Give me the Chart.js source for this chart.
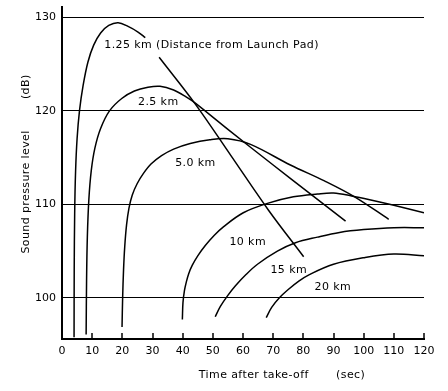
<!DOCTYPE html>
<html>
<head>
<meta charset="utf-8">
<script src="https://cdn.jsdelivr.net/npm/chart.js@4.4.1/dist/chart.umd.min.js"></script>
<style>
  html, body { margin: 0; padding: 0; background: #fff; }
</style>
</head>
<body>
<canvas id="noiseChart" width="448" height="391"></canvas>
<script>
// Niveau sonore en fonction du temps après le décollage, une courbe par distance
const xTicks = [0, 10, 20, 30, 40, 50, 60, 70, 80, 90, 100, 110, 120];
const yTicks = [100, 110, 120, 130];

// 1.25 km (null = coupure sous le texte)
const t125  = [4.0, 4.05, 4.2, 4.5, 5.0, 5.8, 7.0, 8.6, 10.5, 12.8, 15.5, 18.6, 21.9, 25.2, 27.6, 29.9, 32.2, 44.2, 56.0, 68.4, 80.1];
const db125 = [95.8, 103.0, 109.0, 113.5, 117.0, 120.0, 122.7, 125.2, 127.0, 128.3, 129.1, 129.4, 129.0, 128.4, 127.8, null, 125.7, 120.7, 115.2, 109.4, 104.4];

const t25  = [8.0, 8.15, 8.4, 8.9, 9.7, 10.9, 12.8, 15.8, 19.8, 24.0, 28.5, 32.5, 37.0, 41.0, 44.2, 55.0, 70.0, 82.0, 94.0];
const db25 = [96.1, 102.0, 106.5, 110.5, 113.6, 116.0, 118.1, 120.0, 121.3, 122.1, 122.5, 122.6, 122.2, 121.5, 120.8, 118.0, 114.2, 111.2, 108.2];

const t50  = [19.9, 20.1, 20.4, 20.8, 21.4, 22.2, 23.3, 24.9, 27.0, 29.5, 33.0, 37.0, 42.5, 49.0, 55.0, 62.5, 75.7, 87.0, 97.0, 108.3];
const db50 = [96.9, 100.0, 103.0, 105.5, 107.8, 109.6, 111.0, 112.2, 113.3, 114.3, 115.2, 115.9, 116.5, 116.9, 117.0, 116.4, 114.2, 112.5, 110.8, 108.4];

const t10  = [39.9, 40.1, 40.6, 41.2, 42.0, 43.2, 45.0, 47.5, 50.5, 53.5, 60.1, 68.1, 76.7, 84.7, 90.0, 96.0, 102.0, 110.0, 120.0];
const db10 = [97.7, 99.5, 100.8, 101.7, 102.6, 103.5, 104.5, 105.6, 106.7, 107.6, 109.1, 110.1, 110.8, 111.1, 111.2, 110.9, 110.5, 109.9, 109.1];

const t15  = [50.8, 52.5, 54.8, 57.5, 61.0, 64.8, 71.4, 77.4, 84.7, 92.0, 100.0, 110.0, 120.0];
const db15 = [98.0, 99.1, 100.2, 101.3, 102.5, 103.6, 105.0, 105.9, 106.5, 107.0, 107.3, 107.5, 107.5];

const t20  = [67.7, 69.5, 72.0, 75.0, 78.5, 82.0, 90.0, 100.0, 110.0, 120.0];
const db20 = [97.9, 99.0, 100.0, 100.9, 101.8, 102.5, 103.6, 104.3, 104.7, 104.5];

const seriesNames = ["1.25 km", "2.5 km", "5.0 km", "10 km", "15 km", "20 km"];
const seriesT  = [t125, t25, t50, t10, t15, t20];
const seriesDb = [db125, db25, db50, db10, db15, db20];

// textes posés sur le graphique (temps, dB)
const labelTexts = ["1.25 km (Distance from Launch Pad)", "2.5 km", "5.0 km", "10 km", "15 km", "20 km"];
const labelT  = [14.0, 25.2, 37.5, 55.5, 69.1, 83.7];
const labelDb = [127.0, 120.9, 114.4, 106.0, 103.0, 101.2];

const FONT = '"DejaVu Sans", sans-serif';

const datasets = seriesNames.map((name, i) => ({
    label: name,
    data: seriesT[i].map((t, k) => ({ x: t, y: seriesDb[i][k] })),
    borderColor: "#000",
    borderWidth: 1.5,
    pointRadius: 0,
    tension: 0.35,
    fill: false,
    spanGaps: false
}));

// petites graduations vers l'intérieur, étiquettes des courbes et titres des axes
const decorations = {
    id: "decorations",
    afterDatasetsDraw(chart) {
        const { ctx, chartArea, scales } = chart;
        const x = scales.x, y = scales.y;
        ctx.save();
        ctx.strokeStyle = "#000";
        ctx.lineWidth = 1.5;
        xTicks.slice(1).forEach(v => {
            const px = Math.round(x.getPixelForValue(v));
            ctx.beginPath();
            ctx.moveTo(px, chartArea.bottom);
            ctx.lineTo(px, chartArea.bottom - 6);
            ctx.stroke();
        });

        ctx.fillStyle = "#000";
        ctx.font = "11px " + FONT;
        ctx.letterSpacing = "0.4px";
        ctx.textBaseline = "middle";
        ctx.textAlign = "left";
        labelTexts.forEach((s, i) => {
            ctx.fillText(s, x.getPixelForValue(labelT[i]), y.getPixelForValue(labelDb[i]));
        });

        ctx.textAlign = "center";
        ctx.fillText("Time after take-off       (sec)", 282, 375);
        ctx.translate(26, 164);
        ctx.rotate(-Math.PI / 2);
        ctx.fillText("Sound pressure level        (dB)", 0, 0);
        ctx.restore();
    }
};

new Chart(document.getElementById("noiseChart").getContext("2d"), {
    type: "line",
    data: { datasets: datasets },
    options: {
        responsive: false,
        animation: false,
        devicePixelRatio: 1,
        layout: { padding: { top: 7, right: 24, left: 0, bottom: 0 } },
        plugins: {
            legend: { display: false },
            tooltip: { enabled: false }
        },
        scales: {
            x: {
                type: "linear",
                min: 0,
                max: 120,
                afterFit: s => { s.height = 52; s.paddingLeft = 0; s.paddingRight = 0; },
                afterBuildTicks: s => { s.ticks = xTicks.map(v => ({ value: v })); },
                grid: { display: true, drawOnChartArea: false, drawTicks: false },
                border: { display: true, color: "#000", width: 2 },
                ticks: { color: "#000", font: { family: FONT, size: 11 }, padding: 6, maxRotation: 0 }
            },
            y: {
                type: "linear",
                min: 95.62,
                max: 131.07,
                afterFit: s => { s.width = 62; s.paddingTop = 0; s.paddingBottom = 0; },
                afterBuildTicks: s => { s.ticks = yTicks.map(v => ({ value: v })); },
                grid: { color: "#000", lineWidth: 1, drawTicks: false },
                border: { display: true, color: "#000", width: 2 },
                ticks: { color: "#000", font: { family: FONT, size: 11 }, padding: 6 }
            }
        }
    },
    plugins: [decorations]
});
</script>
</body>
</html>
